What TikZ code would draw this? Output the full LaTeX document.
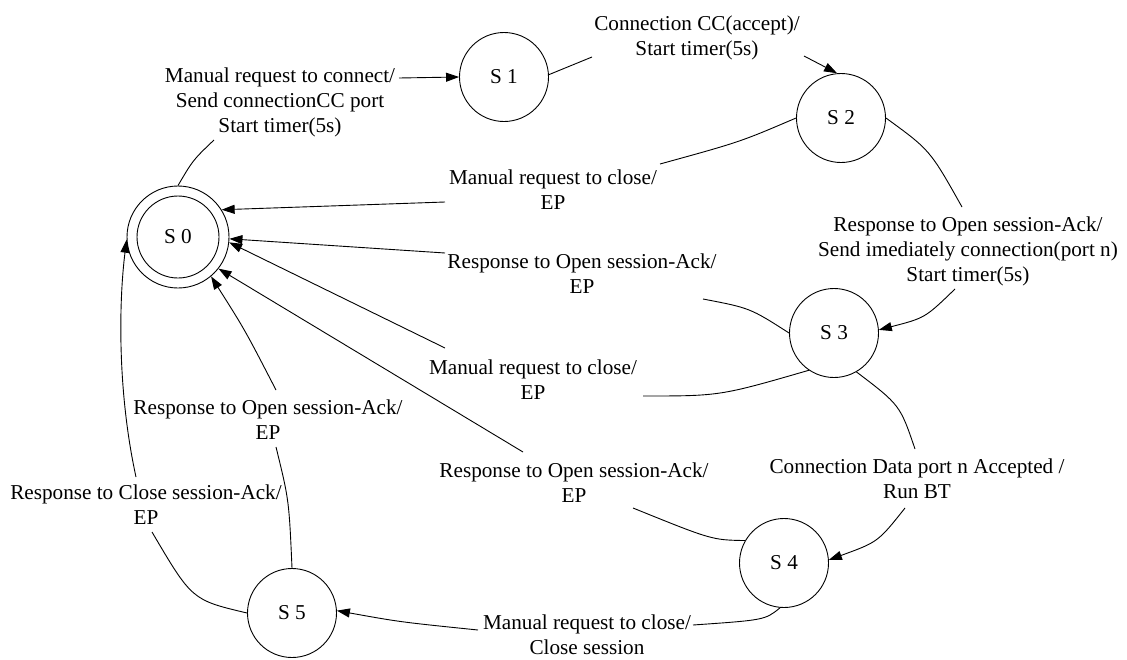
\documentclass[tikz,border=0pt]{standalone}
\usepackage{fontspec}
\setmainfont{Liberation Serif}
\usetikzlibrary{arrows.meta}
\begin{document}
\begin{tikzpicture}[x=1pt,y=-1pt,
  every node/.style={font=\fontsize{21.2}{25}\selectfont},
  state/.style={draw,circle,line width=0.9pt,minimum size=89pt,inner sep=0pt},
  lbl/.style={align=center,inner sep=0pt},
  edge/.style={line width=0.9pt},
  arr/.style={edge,-{Triangle[length=13pt,width=9pt]}}]
\useasboundingbox (0,0) rectangle (1127,659);

% states
\node[state,minimum size=102pt] (S0) at (178,237) {};
\node[state,minimum size=82pt] (S0i) at (178,237) {S 0};
\node[state] (S1) at (504,77) {S 1};
\node[state] (S2) at (841,118) {S 2};
\node[state] (S3) at (834,333) {S 3};
\node[state] (S4) at (784,563) {S 4};
\node[state] (S5) at (292,613) {S 5};

% labels
\node[lbl] (L01) at (280,102) {Manual request to connect/\\Send connectionCC port\\Start timer(5s)};
\node[lbl] (L12) at (697,38) {Connection CC(accept)/\\Start timer(5s)};
\node[lbl] (L20) at (553,190) {Manual request to close/\\EP};
\node[lbl] (L23) at (968,251) {Response to Open session-Ack/\\Send imediately connection(port n)\\Start timer(5s)};
\node[lbl] (L30a) at (582,274) {Response to Open session-Ack/\\EP};
\node[lbl] (L30b) at (533,380) {Manual request to close/\\EP};
\node[lbl] (L40) at (574,483) {Response to Open session-Ack/\\EP};
\node[lbl] (L50a) at (268,420) {Response to Open session-Ack/\\EP};
\node[lbl] (L50b) at (146,505) {Response to Close session-Ack/\\EP};
\node[lbl] (L34) at (917,479) {Connection Data port n Accepted /\\Run BT};
\node[lbl] (L45) at (587,635) {Manual request to close/\\Close session};

% label ends of connectors
\coordinate (e1a) at (214,140);  \coordinate (e1b) at (399,78);
\coordinate (e2a) at (592,57);   \coordinate (e2b) at (804,56);
\coordinate (e3a) at (660,164);  \coordinate (e3b) at (445,202);
\coordinate (e4a) at (962,207);  \coordinate (e4b) at (955,289);
\coordinate (e5a) at (703,299);  \coordinate (e5b) at (445,253);
\coordinate (e6a) at (643,396);  \coordinate (e6b) at (445,348);
\coordinate (e7a) at (633,508);  \coordinate (e7b) at (523,452);
\coordinate (e8a) at (276,447);  \coordinate (e8b) at (276,390);
\coordinate (e9a) at (152,532);  \coordinate (e9b) at (136,477);
\coordinate (e10a) at (915,449); \coordinate (e10b) at (905,508);
\coordinate (e11a) at (693,625); \coordinate (e11b) at (478,630);

% connectors
\draw[edge] (S0.north) .. controls (193,160) .. (e1a);
\draw[arr] (e1b) -- (S1.west);

\draw[edge] (S1.3) .. controls (570,65) .. (e2a);
\draw[arr] (e2b) -- (S2.95);

\draw[edge] (S2.west) .. controls (740,142) .. (e3a);
\draw[arr] (e3b) .. controls (330,206) .. (S0.32);

\draw[edge] (S2.east) .. controls (930,150) .. (e4a);
\draw[arr] (e4b) .. controls (925,318) .. (S3.4);

\draw[edge] (S3.west) .. controls (750,308) .. (e5a);
\draw[arr] (e5b) -- (S0.-2);

\draw[edge] (S3.236) .. controls (720,396) .. (e6a);
\draw[arr] (e6b) -- (S0.-6);

\draw[edge] (S4.150) .. controls (712,540) .. (e7a);
\draw[arr] (e7b) -- (S0.-38);

\draw[edge] (S5.north) .. controls (289,500) .. (e8a);
\draw[arr] (e8b) .. controls (245,330) .. (S0.-50);

\draw[edge] (S5.west) .. controls (192,600) .. (e9a);
\draw[arr] (e9b) .. controls (117,390) and (119,300) .. (S0.183);

\draw[edge] (S3.-60) .. controls (900,405) .. (e10a);
\draw[arr] (e10b) .. controls (878,542) .. (S4.4);

\draw[edge] (S4.-95) .. controls (765,620) .. (e11a);
\draw[arr] (e11b) .. controls (400,622) .. (S5.3);
\end{tikzpicture}
\end{document}
